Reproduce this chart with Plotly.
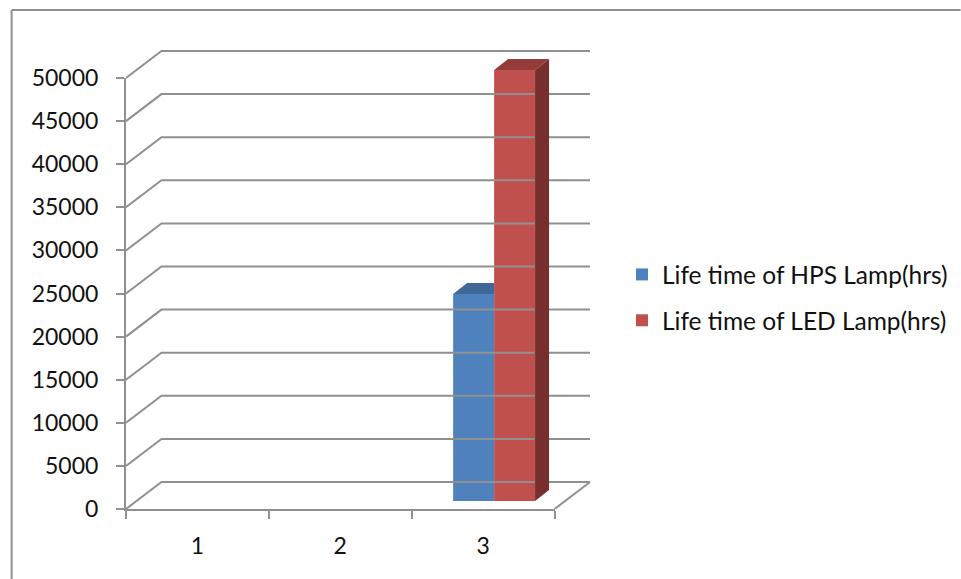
import plotly.graph_objects as go

categories = [1, 2, 3]
hps_life = [None, None, 24000]
led_life = [None, None, 50000]
series_names = ["Life time of HPS Lamp(hrs)", "Life time of LED Lamp(hrs)"]
y_ticks = [0, 5000, 10000, 15000, 20000, 25000, 30000, 35000, 40000, 45000, 50000]

W, H = 961, 579
# Visible axes span LEFT..AXIS_RIGHT and AXIS_TOP..BOTTOM; the drawing layer reaches further
LEFT, AXIS_RIGHT, AXIS_TOP, BOTTOM = 125.5, 554.5, 78.0, 509.0
AREA_RIGHT, AREA_TOP = 598.0, 44.0
AREA_W, AREA_H = AREA_RIGHT - LEFT, BOTTOM - AREA_TOP
X_UNIT = (AXIS_RIGHT - LEFT) / 3     # px per category
Y_UNIT = (BOTTOM - AXIS_TOP) / 50000 # px per hour

# Oblique projection offsets for the fake 3D box, converted to data units
WALL_DX, WALL_DY = 35.5 / X_UNIT, 27 / Y_UNIT
BAR_NEAR_DX, BAR_NEAR_DY = 11 / X_UNIT, 8 / Y_UNIT
BAR_DX, BAR_DY = 14 / X_UNIT, 11 / Y_UNIT
BAR_W = 41 / X_UNIT

GRID = "#909090"
LINE_W = 2
BLUE, BLUE_TOP = "#4f81bd", "#3f6797"
RED, RED_TOP, RED_SIDE = "#c0504d", "#943c39", "#772f2d"
FONT = "Lato"
TEXT = "#111111"

fig = go.Figure()


def line(xs, ys):
    fig.add_trace(go.Scatter(x=xs, y=ys, xaxis="x2", yaxis="y2", mode="lines", showlegend=False,
                             hoverinfo="skip", line=dict(color=GRID, width=LINE_W)))


def face(xs, ys, color):
    fig.add_trace(go.Scatter(x=xs, y=ys, xaxis="x2", yaxis="y2", mode="lines", fill="toself",
                             fillcolor=color, showlegend=False, hoverinfo="skip",
                             line=dict(width=0, color=color)))


# Keeps the labelled axes attached to a subplot of their own
fig.add_trace(go.Scatter(x=[0.5, 3.5], y=[0, 0], mode="lines", showlegend=False, hoverinfo="skip",
                         line=dict(color=GRID, width=0)))

# Back wall gridlines with their slanted returns to the value axis
for v in y_ticks:
    line([0.5, 0.5 + WALL_DX, 3.5 + WALL_DX], [v, v + WALL_DY, v + WALL_DY])
# Right edge of the floor
line([3.5, 3.5 + WALL_DX], [0, WALL_DY])

# Front faces of the bars, lifted off the floor by the box depth
centres = [c + BAR_NEAR_DX for c in categories]
fig.add_trace(go.Bar(x=centres, y=hps_life, base=BAR_NEAR_DY, name=series_names[0],
                     xaxis="x2", yaxis="y2", marker=dict(color=BLUE, line=dict(width=0)),
                     width=BAR_W, offset=-BAR_W, legendgroup="hps"))
fig.add_trace(go.Bar(x=centres, y=led_life, base=BAR_NEAR_DY, name=series_names[1],
                     xaxis="x2", yaxis="y2", marker=dict(color=RED, line=dict(width=0)),
                     width=BAR_W, offset=0, legendgroup="led"))

# Top and side faces follow from each bar's value
for c, a, b in zip(centres, hps_life, led_life):
    if a is not None:
        top = a + BAR_NEAR_DY
        # the right part of this top is hidden behind the neighbouring bar
        face([c - BAR_W, c, c, c - BAR_W + BAR_DX, c - BAR_W],
             [top, top, top + BAR_DY, top + BAR_DY, top], BLUE_TOP)
    if b is not None:
        top = b + BAR_NEAR_DY
        face([c, c + BAR_W, c + BAR_W + BAR_DX, c + BAR_DX, c],
             [top, top, top + BAR_DY, top + BAR_DY, top], RED_TOP)
        face([c + BAR_W, c + BAR_W + BAR_DX, c + BAR_W + BAR_DX, c + BAR_W, c + BAR_W],
             [BAR_NEAR_DY, BAR_NEAR_DY + BAR_DY, top + BAR_DY, top, BAR_NEAR_DY], RED_SIDE)

# Chart frame: only the left and top edges fall inside the page
fx = lambda px: (px - LEFT) / AREA_W
fy = lambda py: (BOTTOM - py) / AREA_H
frame = dict(type="line", xref="paper", yref="paper", line=dict(color=GRID, width=LINE_W), layer="below")
fig.update_layout(shapes=[
    dict(frame, x0=fx(11), x1=fx(11), y0=fy(H), y1=fy(10)),
    dict(frame, x0=fx(11), x1=fx(W), y0=fy(10), y1=fy(10)),
])

fig.update_layout(
    width=W, height=H,
    margin=dict(l=LEFT, r=W - AREA_RIGHT, t=AREA_TOP, b=H - BOTTOM, autoexpand=False),
    paper_bgcolor="white", plot_bgcolor="rgba(0,0,0,0)",
    font=dict(family=FONT, size=23, color=TEXT),
    barmode="overlay",
    xaxis=dict(domain=[0, (AXIS_RIGHT - LEFT) / AREA_W], anchor="y", range=[0.5, 3.5],
               tickmode="array", tickvals=categories, ticktext=[str(c) for c in categories],
               ticks="outside", ticklen=15, tickcolor="rgba(0,0,0,0)", showgrid=False, zeroline=False,
               showline=True, linecolor=GRID, linewidth=LINE_W,
               minor=dict(tickmode="array", tickvals=[0.5, 1.5, 2.5, 3.5], ticks="outside",
                          ticklen=8, tickcolor=GRID, tickwidth=LINE_W, showgrid=False)),
    yaxis=dict(domain=[0, (BOTTOM - AXIS_TOP) / AREA_H], anchor="x", range=[0, 50000],
               tickmode="array", tickvals=y_ticks, ticktext=[str(v) for v in y_ticks],
               ticks="outside", ticklen=8, ticklabelstandoff=13,
               tickcolor=GRID, tickwidth=LINE_W, showgrid=False, zeroline=False,
               showline=True, linecolor=GRID, linewidth=LINE_W),
    xaxis2=dict(domain=[0, 1], anchor="y2", range=[0.5, 0.5 + AREA_W / X_UNIT], visible=False),
    yaxis2=dict(domain=[0, 1], anchor="x2", range=[0, AREA_H / Y_UNIT], visible=False),
    legend=dict(xref="paper", yref="paper", x=fx(622), y=fy(252), xanchor="left", yanchor="top",
                traceorder="grouped", tracegroupgap=11, bgcolor="rgba(0,0,0,0)",
                font=dict(size=24.5, family=FONT, color=TEXT)),
)

fig.write_html("out.html")
